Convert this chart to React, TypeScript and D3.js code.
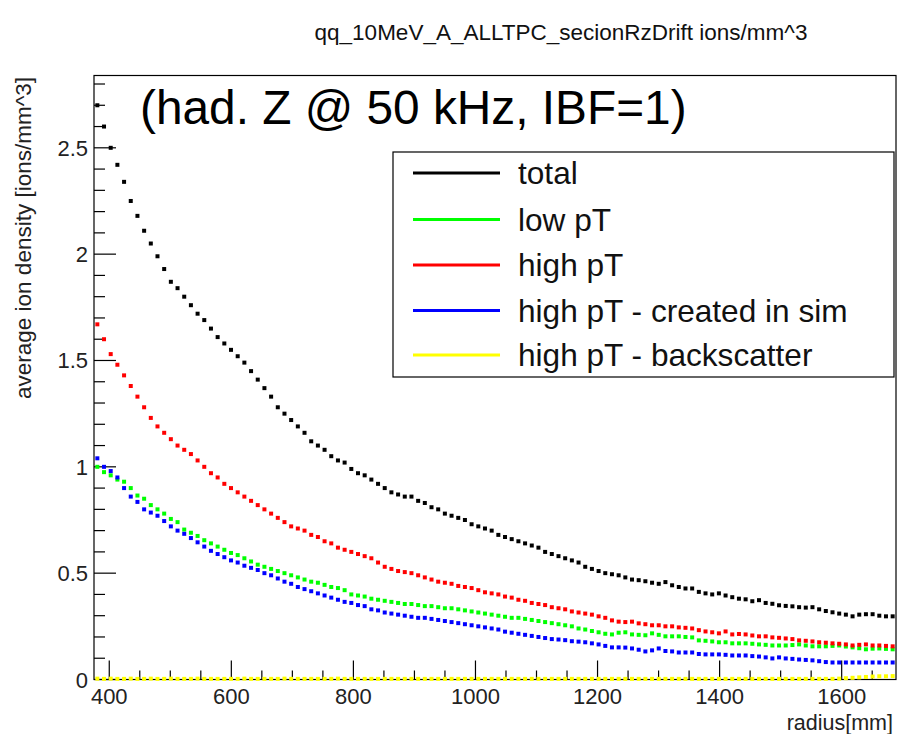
import React from 'react';
import * as d3 from 'd3';

const TITLE = 'qq_10MeV_A_ALLTPC_secionRzDrift ions/mm^3';
const LABEL = '(had. Z @ 50 kHz, IBF=1)';
const X_TITLE = 'radius[mm]';
const Y_TITLE = 'average ion density [ions/mm^3]';

const X_DOMAIN = [375, 1689];
const Y_DOMAIN = [0, 2.84];
const X_MAJOR_TICKS = [400, 600, 800, 1000, 1200, 1400, 1600];
const X_TICK_LABELS = ['400', '600', '800', '1000', '1200', '1400', '1600'];
const Y_MAJOR_TICKS = [0, 0.5, 1, 1.5, 2, 2.5];
const Y_TICK_LABELS = ['0', '0.5', '1', '1.5', '2', '2.5'];

const SERIES_NAMES = ['total', 'low pT', 'high pT', 'high pT - created in sim', 'high pT - backscatter'];
const SERIES_COLORS = ['#000000', '#00ff00', '#ff0000', '#0000ff', '#ffff00'];

const total = [
  2.70, 2.60, 2.50, 2.42, 2.34, 2.25, 2.18, 2.11, 2.05, 1.99,
  1.93, 1.87, 1.84, 1.80, 1.76, 1.72, 1.69, 1.65, 1.61, 1.58,
  1.55, 1.52, 1.49, 1.45, 1.41, 1.37, 1.33, 1.28, 1.25, 1.22,
  1.19, 1.16, 1.12, 1.10, 1.08, 1.05, 1.03, 1.02, 0.99, 0.97,
  0.96, 0.94, 0.92, 0.90, 0.88, 0.87, 0.86, 0.86, 0.84, 0.83,
  0.81, 0.80, 0.78, 0.77, 0.76, 0.75, 0.73, 0.72, 0.71, 0.70,
  0.68, 0.67, 0.66, 0.65, 0.64, 0.63, 0.62, 0.60, 0.59, 0.58,
  0.57, 0.56, 0.55, 0.53, 0.52, 0.51, 0.50, 0.495, 0.49, 0.48,
  0.47, 0.467, 0.462, 0.455, 0.45, 0.458, 0.443, 0.435, 0.428, 0.428,
  0.412, 0.405, 0.40, 0.405, 0.395, 0.387, 0.38, 0.377, 0.368, 0.373,
  0.36, 0.356, 0.349, 0.346, 0.344, 0.34, 0.338, 0.34, 0.33, 0.322,
  0.316, 0.31, 0.305, 0.297, 0.305, 0.307, 0.307, 0.30, 0.297, 0.297,
];

const lowPt = [
  1.00, 0.975, 0.96, 0.94, 0.93, 0.90, 0.865, 0.85, 0.82, 0.80,
  0.78, 0.755, 0.74, 0.705, 0.69, 0.675, 0.655, 0.64, 0.625, 0.61,
  0.595, 0.585, 0.57, 0.555, 0.54, 0.53, 0.52, 0.51, 0.50, 0.49,
  0.48, 0.47, 0.46, 0.455, 0.445, 0.435, 0.43, 0.42, 0.40, 0.395,
  0.39, 0.38, 0.375, 0.37, 0.365, 0.36, 0.355, 0.355, 0.35, 0.345,
  0.345, 0.34, 0.335, 0.335, 0.33, 0.325, 0.32, 0.315, 0.31, 0.305,
  0.30, 0.295, 0.29, 0.29, 0.285, 0.28, 0.275, 0.27, 0.265, 0.26,
  0.255, 0.25, 0.24, 0.235, 0.228, 0.222, 0.215, 0.212, 0.22, 0.222,
  0.212, 0.21, 0.208, 0.217, 0.21, 0.203, 0.203, 0.203, 0.20, 0.198,
  0.184, 0.182, 0.179, 0.175, 0.175, 0.17, 0.17, 0.17, 0.168, 0.165,
  0.163, 0.16, 0.16, 0.16, 0.162, 0.165, 0.16, 0.156, 0.156, 0.156,
  0.158, 0.16, 0.155, 0.151, 0.147, 0.142, 0.145, 0.146, 0.144, 0.142,
];

const highPt = [
  1.67, 1.60, 1.53, 1.48, 1.43, 1.38, 1.33, 1.28, 1.23, 1.19,
  1.16, 1.13, 1.10, 1.08, 1.06, 1.03, 1.00, 0.97, 0.95, 0.92,
  0.90, 0.88, 0.86, 0.84, 0.82, 0.80, 0.78, 0.76, 0.74, 0.72,
  0.71, 0.70, 0.68, 0.67, 0.65, 0.64, 0.62, 0.61, 0.60, 0.59,
  0.58, 0.57, 0.55, 0.53, 0.52, 0.51, 0.505, 0.50, 0.49, 0.48,
  0.47, 0.46, 0.455, 0.45, 0.44, 0.435, 0.43, 0.42, 0.41, 0.405,
  0.40, 0.39, 0.385, 0.375, 0.37, 0.36, 0.355, 0.35, 0.34, 0.335,
  0.33, 0.32, 0.315, 0.31, 0.305, 0.297, 0.29, 0.278, 0.272, 0.27,
  0.272, 0.264, 0.26, 0.255, 0.255, 0.25, 0.25, 0.245, 0.243, 0.24,
  0.232, 0.226, 0.222, 0.217, 0.226, 0.212, 0.214, 0.212, 0.207, 0.203,
  0.203, 0.198, 0.196, 0.193, 0.19, 0.184, 0.182, 0.179, 0.175, 0.173,
  0.17, 0.168, 0.165, 0.16, 0.163, 0.165, 0.16, 0.16, 0.158, 0.156,
];

const highPtSim = [
  1.04, 1.00, 0.98, 0.95, 0.90, 0.86, 0.835, 0.80, 0.785, 0.77,
  0.745, 0.72, 0.70, 0.685, 0.665, 0.645, 0.625, 0.605, 0.59, 0.575,
  0.56, 0.55, 0.535, 0.525, 0.515, 0.50, 0.49, 0.475, 0.46, 0.45,
  0.435, 0.425, 0.415, 0.405, 0.395, 0.385, 0.375, 0.365, 0.36, 0.35,
  0.345, 0.33, 0.325, 0.315, 0.31, 0.305, 0.30, 0.295, 0.29, 0.29,
  0.285, 0.28, 0.275, 0.27, 0.265, 0.26, 0.255, 0.25, 0.245, 0.24,
  0.235, 0.225, 0.22, 0.215, 0.21, 0.205, 0.20, 0.195, 0.19, 0.188,
  0.185, 0.18, 0.178, 0.175, 0.17, 0.165, 0.158, 0.151, 0.151, 0.15,
  0.146, 0.14, 0.132, 0.137, 0.146, 0.134, 0.132, 0.127, 0.127, 0.127,
  0.12, 0.118, 0.118, 0.118, 0.116, 0.113, 0.113, 0.113, 0.11, 0.108,
  0.104, 0.099, 0.104, 0.099, 0.097, 0.094, 0.092, 0.09, 0.086, 0.082,
  0.08, 0.08, 0.08, 0.08, 0.08, 0.08, 0.08, 0.08, 0.08, 0.08,
];

const highPtBackscatter = [
  0.004, 0.003, 0.004, 0.003, 0.003, 0.004, 0.003, 0.003, 0.004, 0.003,
  0.003, 0.004, 0.003, 0.003, 0.003, 0.004, 0.003, 0.003, 0.003, 0.003,
  0.003, 0.003, 0.004, 0.003, 0.003, 0.003, 0.003, 0.003, 0.004, 0.003,
  0.003, 0.003, 0.003, 0.003, 0.003, 0.003, 0.004, 0.003, 0.003, 0.003,
  0.003, 0.003, 0.003, 0.003, 0.003, 0.003, 0.003, 0.003, 0.003, 0.003,
  0.003, 0.003, 0.003, 0.003, 0.003, 0.003, 0.003, 0.003, 0.003, 0.003,
  0.003, 0.003, 0.003, 0.003, 0.003, 0.003, 0.003, 0.003, 0.003, 0.003,
  0.003, 0.003, 0.003, 0.003, 0.003, 0.003, 0.003, 0.003, 0.003, 0.003,
  0.003, 0.003, 0.003, 0.003, 0.003, 0.003, 0.003, 0.003, 0.003, 0.003,
  0.003, 0.003, 0.003, 0.003, 0.003, 0.003, 0.003, 0.003, 0.003, 0.003,
  0.003, 0.003, 0.003, 0.003, 0.003, 0.003, 0.003, 0.003, 0.003, 0.003,
  0.003, 0.004, 0.006, 0.008, 0.010, 0.012, 0.014, 0.015, 0.015, 0.016,
];

const SERIES = [total, lowPt, highPt, highPtSim, highPtBackscatter];

const FONT = '"Liberation Sans", Arial, Helvetica, sans-serif';

export default function App() {
  const W = 897;
  const H = 734;
  const left = 94, right = 896, top = 75.5, bottom = 679.5;

  const x = d3.scaleLinear().domain(X_DOMAIN).range([left, right]);
  const y = d3.scaleLinear().domain(Y_DOMAIN).range([bottom, top]);

  const nBins = total.length;
  const binW = (X_DOMAIN[1] - X_DOMAIN[0]) / nBins;
  const center = (i: number) => X_DOMAIN[0] + (i + 0.5) * binW;

  const xMinor = d3.range(400, X_DOMAIN[1], 50).filter((v) => !X_MAJOR_TICKS.includes(v));
  const yMinor = d3.range(0, 2.81, 0.1).filter((v) => Math.abs(v * 2 - Math.round(v * 2)) > 1e-6);

  const ms = 4;

  const lg = { x0: 393, x1: 894, y0: 152, y1: 377 };
  const entryY = [173, 219.5, 265, 310.5, 355];

  return (
    <svg width={W} height={H} style={{ position: 'absolute', left: 0, top: 0, background: '#fff' }} fontFamily={FONT}>
      <rect x={0} y={0} width={W} height={H} fill="#fff" />
      <text x={561} y={40} textAnchor="middle" fontSize={22.5} fill="#111">{TITLE}</text>

      <rect x={left} y={top} width={right - left} height={bottom - top} fill="none" stroke="#000" strokeWidth={1.2} />

      {Y_MAJOR_TICKS.map((v) => (
        <line key={'ym' + v} x1={left} x2={left + 22} y1={y(v)} y2={y(v)} stroke="#000" strokeWidth={1.2} />
      ))}
      {yMinor.map((v) => (
        <line key={'yn' + v} x1={left} x2={left + 11} y1={y(v)} y2={y(v)} stroke="#000" strokeWidth={1.2} />
      ))}
      {Y_MAJOR_TICKS.map((v, i) => (
        <text key={'yl' + v} x={88} y={y(v) + 8} textAnchor="end" fontSize={22} fill="#222">{Y_TICK_LABELS[i]}</text>
      ))}

      {X_MAJOR_TICKS.map((v) => (
        <line key={'xm' + v} x1={x(v)} x2={x(v)} y1={bottom} y2={bottom - 19} stroke="#000" strokeWidth={1.2} />
      ))}
      {xMinor.map((v) => (
        <line key={'xn' + v} x1={x(v)} x2={x(v)} y1={bottom} y2={bottom - 9} stroke="#000" strokeWidth={1.2} />
      ))}
      {X_MAJOR_TICKS.map((v, i) => (
        <text key={'xl' + v} x={x(v)} y={704} textAnchor="middle" fontSize={22} fill="#222">{X_TICK_LABELS[i]}</text>
      ))}

      <text x={893} y={730} textAnchor="end" fontSize={21.5} fill="#222">{X_TITLE}</text>
      <text transform="translate(31,77) rotate(-90)" textAnchor="end" fontSize={22.5} fill="#222">{Y_TITLE}</text>

      {SERIES.map((s, si) => (
        <g key={'s' + si} fill={SERIES_COLORS[si]}>
          {s.map((v, i) => (
            <rect key={i} x={x(center(i)) - ms / 2} y={y(v) - ms / 2} width={ms} height={ms} />
          ))}
        </g>
      ))}

      <text x={140} y={124} fontSize={47.8} fill="#000">{LABEL}</text>

      <rect x={lg.x0} y={lg.y0} width={lg.x1 - lg.x0} height={lg.y1 - lg.y0} fill="#fff" stroke="#000" strokeWidth={1.2} />
      {SERIES_NAMES.map((n, i) => (
        <g key={'lg' + i}>
          <line x1={413} x2={500} y1={entryY[i]} y2={entryY[i]} stroke={SERIES_COLORS[i]} strokeWidth={3} />
          <text x={518} y={entryY[i] + 11} fontSize={31.6} fill="#111">{n}</text>
        </g>
      ))}
    </svg>
  );
}
